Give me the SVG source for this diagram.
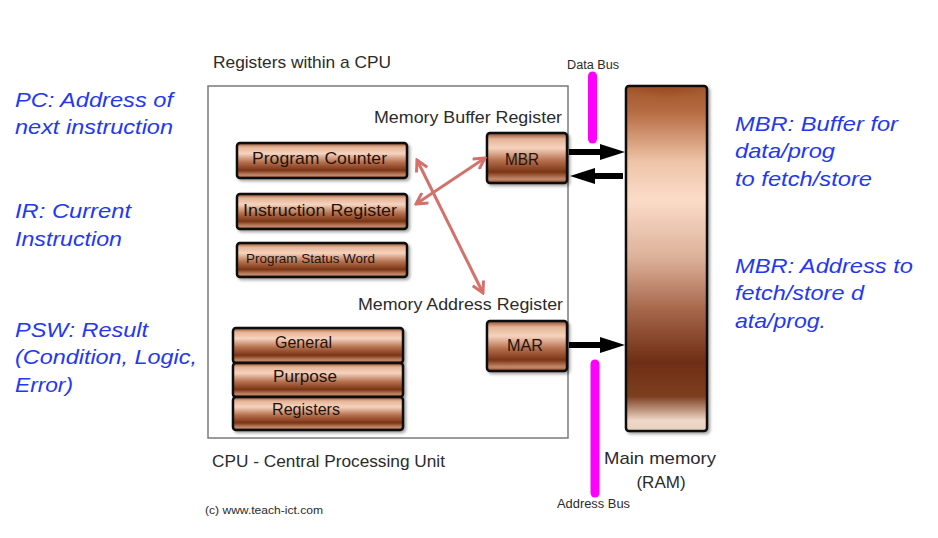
<svg xmlns="http://www.w3.org/2000/svg" width="938" height="538" viewBox="0 0 938 538">
<defs>
<style>
.t{font-family:"Liberation Sans",Arial,sans-serif;fill:#2b2b2b}
.r{font-family:"Liberation Sans",Arial,sans-serif;fill:#1e130c}
.n{font-family:"Liberation Sans",Arial,sans-serif;font-style:italic;font-size:21px;fill:#2338f0}
.reg{fill:url(#cu);stroke:#111;stroke-width:2.5;filter:url(#sh)}
.bus{stroke:#ff00ff;stroke-width:9;stroke-linecap:round}
.red{stroke:#d4716b;stroke-width:3;fill:none;marker-start:url(#rh);marker-end:url(#rh)}
</style>
<linearGradient id="cu" x1="0" y1="0" x2="0" y2="1">
<stop offset="0" stop-color="#8b4a2b"/>
<stop offset="0.12" stop-color="#e6b497"/>
<stop offset="0.3" stop-color="#f6d3bf"/>
<stop offset="0.55" stop-color="#b5704e"/>
<stop offset="0.78" stop-color="#7a3414"/>
<stop offset="0.92" stop-color="#c48a6c"/>
<stop offset="1" stop-color="#8a4a2c"/>
</linearGradient>
<linearGradient id="mem" x1="0" y1="0" x2="0" y2="1">
<stop offset="0" stop-color="#a0552a"/>
<stop offset="0.08" stop-color="#b86e45"/>
<stop offset="0.22" stop-color="#efc4a8"/>
<stop offset="0.33" stop-color="#fbdcc8"/>
<stop offset="0.5" stop-color="#dcb098"/>
<stop offset="0.65" stop-color="#a5664a"/>
<stop offset="0.8" stop-color="#6e2e14"/>
<stop offset="0.9" stop-color="#7d3f20"/>
<stop offset="0.97" stop-color="#efd8c8"/>
<stop offset="1" stop-color="#e8d0c0"/>
</linearGradient>
<radialGradient id="memtop" cx="0.5" cy="0.02" r="0.5" gradientTransform="scale(1 0.25)">
<stop offset="0" stop-color="#9a4a1c" stop-opacity="0.8"/>
<stop offset="1" stop-color="#9a4a1c" stop-opacity="0"/>
</radialGradient>
<filter id="sh" x="-10%" y="-20%" width="130%" height="150%">
<feDropShadow dx="2" dy="2" stdDeviation="1.5" flood-color="#000" flood-opacity="0.35"/>
</filter>
<marker id="rh" viewBox="0 0 14 14" markerWidth="14" markerHeight="14" refX="12" refY="7" orient="auto-start-reverse" markerUnits="userSpaceOnUse">
<path d="M1,1 L12,7 L1,13" fill="none" stroke="#d4716b" stroke-width="3"/>
</marker>
</defs>
<rect width="938" height="538" fill="#fff"/>

<g id="cpu">
<rect x="208" y="86" width="360" height="352" fill="none" stroke="#7a7a7a" stroke-width="1.5"/>
<text class="t" x="213" y="68" font-size="17" textLength="178" lengthAdjust="spacingAndGlyphs">Registers within a CPU</text>
<text class="t" x="212" y="467" font-size="17" textLength="233" lengthAdjust="spacingAndGlyphs">CPU - Central Processing Unit</text>
<text class="t" x="205" y="514" font-size="11" textLength="118" lengthAdjust="spacingAndGlyphs">(c) www.teach-ict.com</text>
<text class="t" x="374" y="123" font-size="17" textLength="188" lengthAdjust="spacingAndGlyphs">Memory Buffer Register</text>
<text class="t" x="358" y="310" font-size="17" textLength="205" lengthAdjust="spacingAndGlyphs">Memory Address Register</text>
</g>

<g id="pc">
<rect class="reg" x="237" y="143" width="170" height="35" rx="3"/>
<text class="r" x="252" y="164" font-size="17" textLength="135" lengthAdjust="spacingAndGlyphs">Program Counter</text>
</g>
<g id="ir">
<rect class="reg" x="237" y="194" width="170" height="35" rx="3"/>
<text class="r" x="243" y="216" font-size="17" textLength="154" lengthAdjust="spacingAndGlyphs">Instruction Register</text>
</g>
<g id="psw">
<rect class="reg" x="237" y="243" width="170" height="34" rx="3"/>
<text class="r" x="246" y="263" font-size="13" textLength="129" lengthAdjust="spacingAndGlyphs">Program Status Word</text>
</g>
<g id="gpr">
<rect class="reg" x="233" y="328" width="170" height="35" rx="3"/>
<rect class="reg" x="233" y="363" width="170" height="34" rx="3"/>
<rect class="reg" x="233" y="397" width="170" height="33" rx="3"/>
<text class="r" x="275" y="348" font-size="17" textLength="57" lengthAdjust="spacingAndGlyphs">General</text>
<text class="r" x="273" y="382" font-size="17" textLength="64" lengthAdjust="spacingAndGlyphs">Purpose</text>
<text class="r" x="272" y="415" font-size="17" textLength="68" lengthAdjust="spacingAndGlyphs">Registers</text>
</g>
<g id="mbr">
<rect class="reg" x="487" y="133" width="80" height="50" rx="3"/>
<text class="r" x="505" y="165" font-size="17" textLength="34" lengthAdjust="spacingAndGlyphs">MBR</text>
</g>
<g id="mar">
<rect class="reg" x="487" y="321" width="80" height="50" rx="3"/>
<text class="r" x="507" y="351" font-size="17" textLength="36" lengthAdjust="spacingAndGlyphs">MAR</text>
</g>
<g id="memory">
<rect x="626" y="86" width="81" height="345" rx="3" fill="url(#mem)" stroke="#111" stroke-width="2.5" filter="url(#sh)"/>
<rect x="627.5" y="87.5" width="78" height="80" fill="url(#memtop)"/>
<text class="t" x="660" y="464" font-size="17" text-anchor="middle" textLength="112" lengthAdjust="spacingAndGlyphs">Main memory</text>
<text class="t" x="661" y="488" font-size="17" text-anchor="middle">(RAM)</text>
</g>
<g id="buses">
<line class="bus" x1="592.5" y1="76" x2="592.5" y2="139"/>
<line class="bus" x1="595" y1="364" x2="595" y2="493"/>
<text class="t" x="567" y="69" font-size="12" textLength="52" lengthAdjust="spacingAndGlyphs">Data Bus</text>
<text class="t" x="557" y="508" font-size="12" textLength="73" lengthAdjust="spacingAndGlyphs">Address Bus</text>
</g>

<g id="connectors">
<rect x="569" y="149" width="33" height="6" fill="#000"/>
<polygon points="600,144 625,152 600,160" fill="#000"/>
<polygon points="570,176 595,168 595,184" fill="#000"/>
<rect x="593" y="173" width="30" height="6" fill="#000"/>
<rect x="569" y="342" width="33" height="6" fill="#000"/>
<polygon points="600,337 625,345 600,353" fill="#000"/>
<line class="red" x1="417" y1="160" x2="483" y2="293"/>
<line class="red" x1="416" y1="204" x2="485" y2="158"/>
</g>

<g id="notes">
<text class="n" x="15" y="107" textLength="158" lengthAdjust="spacingAndGlyphs">PC: Address of</text>
<text class="n" x="15" y="134" textLength="158" lengthAdjust="spacingAndGlyphs">next instruction</text>
<text class="n" x="15" y="218" textLength="116" lengthAdjust="spacingAndGlyphs">IR: Current</text>
<text class="n" x="15" y="246" textLength="107" lengthAdjust="spacingAndGlyphs">Instruction</text>
<text class="n" x="15" y="337" textLength="133" lengthAdjust="spacingAndGlyphs">PSW: Result</text>
<text class="n" x="15" y="364" textLength="182" lengthAdjust="spacingAndGlyphs">(Condition, Logic,</text>
<text class="n" x="15" y="392" textLength="58" lengthAdjust="spacingAndGlyphs">Error)</text>
<text class="n" x="735" y="131" textLength="163" lengthAdjust="spacingAndGlyphs">MBR: Buffer for</text>
<text class="n" x="735" y="158" textLength="100" lengthAdjust="spacingAndGlyphs">data/prog</text>
<text class="n" x="735" y="186" textLength="137" lengthAdjust="spacingAndGlyphs">to fetch/store</text>
<text class="n" x="735" y="273" textLength="178" lengthAdjust="spacingAndGlyphs">MBR: Address to</text>
<text class="n" x="735" y="300" textLength="129" lengthAdjust="spacingAndGlyphs">fetch/store d</text>
<text class="n" x="735" y="328" textLength="91" lengthAdjust="spacingAndGlyphs">ata/prog.</text>
</g>
</svg>
